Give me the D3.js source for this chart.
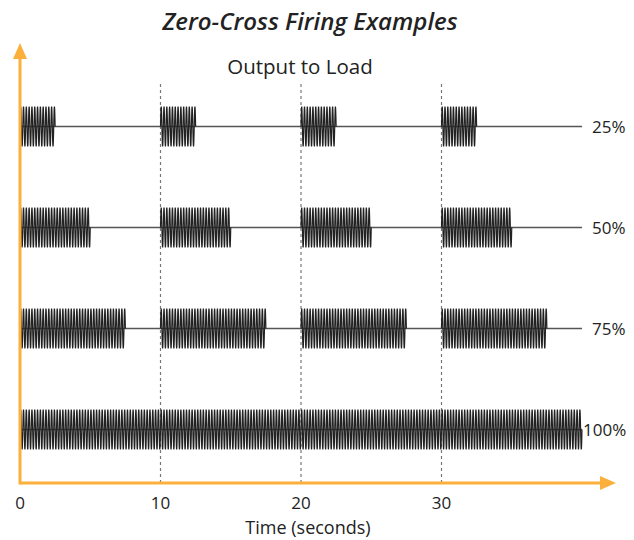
<!DOCTYPE html>
<html>
<head>
<meta charset="utf-8">
<script src="https://cdn.jsdelivr.net/npm/d3@7"></script>
<style>
  body { margin: 0; background: #fff; }
  text { font-family: "Open Sans", "DejaVu Sans", sans-serif; fill: #222; }
</style>
</head>
<body>
<svg id="chart" width="634" height="540"></svg>
<script>
/*** DATA ***/
var rowLabels = ['25%', '50%', '75%', '100%'];
// on-time (seconds) inside each 10 s window
var onTimes = [2.5, 5, 7.5, 10];
var windowStarts = [0, 10, 20, 30];
var xTicks = [0, 10, 20, 30];
var cyclesPerSecond = 5;

var svg = d3.select('#chart');
var orange = '#fbb03b';

var x = d3.scaleLinear().domain([0, 40]).range([20, 582]);
var y = d3.scaleBand().domain(rowLabels).range([76, 480]);
var amp = 20;

//title
svg.append('text')
  .attr('x', 310).attr('y', 30)
  .attr('text-anchor', 'middle')
  .style('font-size', '24px').style('font-weight', '600').style('font-style', 'italic')
  .text('Zero-Cross Firing Examples');

svg.append('text')
  .attr('x', 300).attr('y', 74)
  .attr('text-anchor', 'middle')
  .style('font-size', '20.5px')
  .text('Output to Load');

//gridlines
svg.selectAll('.grid')
  .data(xTicks.slice(1))
  .enter().append('line')
  .attr('x1', d => x(d)).attr('x2', d => x(d))
  .attr('y1', 84).attr('y2', 483)
  .attr('stroke', '#777').attr('stroke-width', 1.2)
  .attr('stroke-dasharray', '3,3');

//rows
rowLabels.forEach(function(label, i) {
  var cy = y(label) + y.bandwidth() / 2;
  var g = svg.append('g').attr('class', 'row');

  //baseline
  g.append('line')
    .attr('x1', x(0)).attr('x2', x(40))
    .attr('y1', cy).attr('y2', cy)
    .attr('stroke', '#555').attr('stroke-width', 1.3);

  //bursts
  windowStarts.forEach(function(s) {
    var t0 = s, t1 = s + onTimes[i];
    var n = Math.round((t1 - t0) * cyclesPerSecond * 20);
    var pts = d3.range(n + 1).map(function(k) {
      var t = t0 + (t1 - t0) * k / n;
      return [x(t), cy - amp * Math.sin(2 * Math.PI * cyclesPerSecond * (t - t0))];
    });
    g.append('path')
      .attr('d', d3.line()(pts))
      .attr('fill', 'none')
      .attr('stroke', '#222')
      .attr('stroke-width', 1.2);
  });

  g.append('text')
    .attr('x', label == '100%' ? 583 : 592)
    .attr('y', cy + 6)
    .style('font-size', '17px')
    .text(label);
});

//axes
var axisY = 483;
svg.append('line')
  .attr('x1', x(0)).attr('x2', 604)
  .attr('y1', axisY).attr('y2', axisY)
  .attr('stroke', orange).attr('stroke-width', 3);
svg.append('path')
  .attr('d', 'M600,476 L616,483 L600,490 Z')
  .attr('fill', orange);

svg.append('line')
  .attr('x1', x(0)).attr('x2', x(0))
  .attr('y1', axisY + 1.5).attr('y2', 56)
  .attr('stroke', orange).attr('stroke-width', 3);
svg.append('path')
  .attr('d', 'M13,59 L20,43 L27,59 Z')
  .attr('fill', orange);

//tick labels
svg.selectAll('.tick-label')
  .data(xTicks)
  .enter().append('text')
  .attr('x', d => x(d)).attr('y', 509)
  .attr('text-anchor', 'middle')
  .style('font-size', '17px')
  .text(d => d);

svg.append('text')
  .attr('x', 308).attr('y', 534)
  .attr('text-anchor', 'middle')
  .style('font-size', '18px')
  .text('Time (seconds)');
</script>
</body>
</html>
